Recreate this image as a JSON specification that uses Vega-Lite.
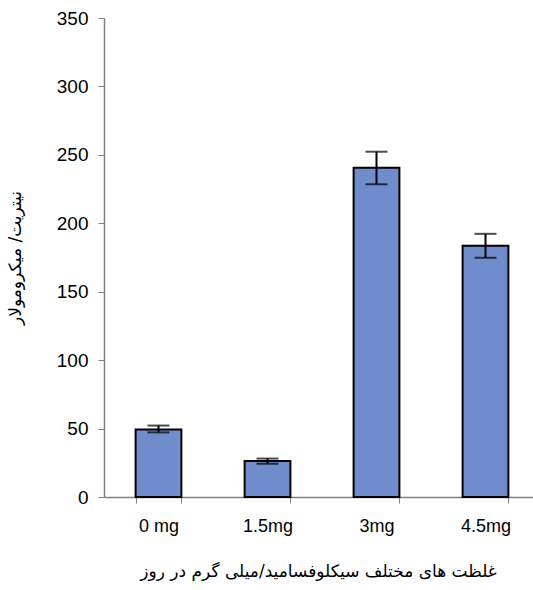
{
  "$schema": "https://vega.github.io/schema/vega-lite/v6.json",
  "autosize": "none",
  "width": 436,
  "height": 479,
  "padding": {"left": 104, "top": 18, "right": 0, "bottom": 93},
  "background": "white",
  "config": {"view": {"stroke": null}},
  "data": {"values": [
    {"dose": "0 mg", "value": 49.4, "low": 47.2, "high": 52.2},
    {"dose": "1.5mg", "value": 26.3, "low": 24.3, "high": 28.1},
    {"dose": "3mg", "value": 240.5, "low": 228.5, "high": 252.3},
    {"dose": "4.5mg", "value": 183.6, "low": 174.8, "high": 192.3}
  ]},
  "encoding": {
    "x": {
      "field": "dose", "type": "nominal", "sort": null,
      "scale": {"paddingInner": 0.58, "paddingOuter": 0.29},
      "axis": {
        "title": "غلظت های مختلف سیکلوفسامید/میلی گرم در روز",
        "titleFont": "DejaVu Sans", "titleFontSize": 17, "titleFontWeight": "normal",
        "titleColor": "black", "titlePadding": 28, "titleX": 214,
        "labelAngle": 0, "labelFont": "Liberation Sans", "labelFontSize": 18,
        "labelColor": "black", "labelPadding": 14,
        "tickBand": "extent", "tickSize": 6, "tickColor": "#808080",
        "domainColor": "#808080", "domainWidth": 1.5, "grid": false
      }
    }
  },
  "layer": [
    {
      "mark": {"type": "bar", "color": "#6f8dcc", "stroke": "black", "strokeWidth": 2},
      "encoding": {
        "y": {
          "field": "value", "type": "quantitative",
          "scale": {"domain": [0, 350], "nice": false},
          "axis": {
            "title": "نیتریت/ میکرومولار",
            "titleFont": "DejaVu Sans", "titleFontSize": 17, "titleFontWeight": "normal",
            "titleColor": "black", "titleX": -80,
            "values": [0, 50, 100, 150, 200, 250, 300, 350],
            "labelFont": "Liberation Sans", "labelFontSize": 19, "labelColor": "black",
            "labelPadding": 10, "tickSize": 6, "tickColor": "#808080",
            "domainColor": "#808080", "domainWidth": 1.5, "grid": false
          }
        }
      }
    },
    {
      "mark": {"type": "rule", "color": "black", "strokeWidth": 2},
      "encoding": {
        "y": {"field": "low", "type": "quantitative"},
        "y2": {"field": "high"}
      }
    },
    {
      "mark": {"type": "tick", "color": "black", "thickness": 2, "size": 22},
      "encoding": {"y": {"field": "low", "type": "quantitative"}}
    },
    {
      "mark": {"type": "tick", "color": "black", "thickness": 2, "size": 22},
      "encoding": {"y": {"field": "high", "type": "quantitative"}}
    }
  ]
}
